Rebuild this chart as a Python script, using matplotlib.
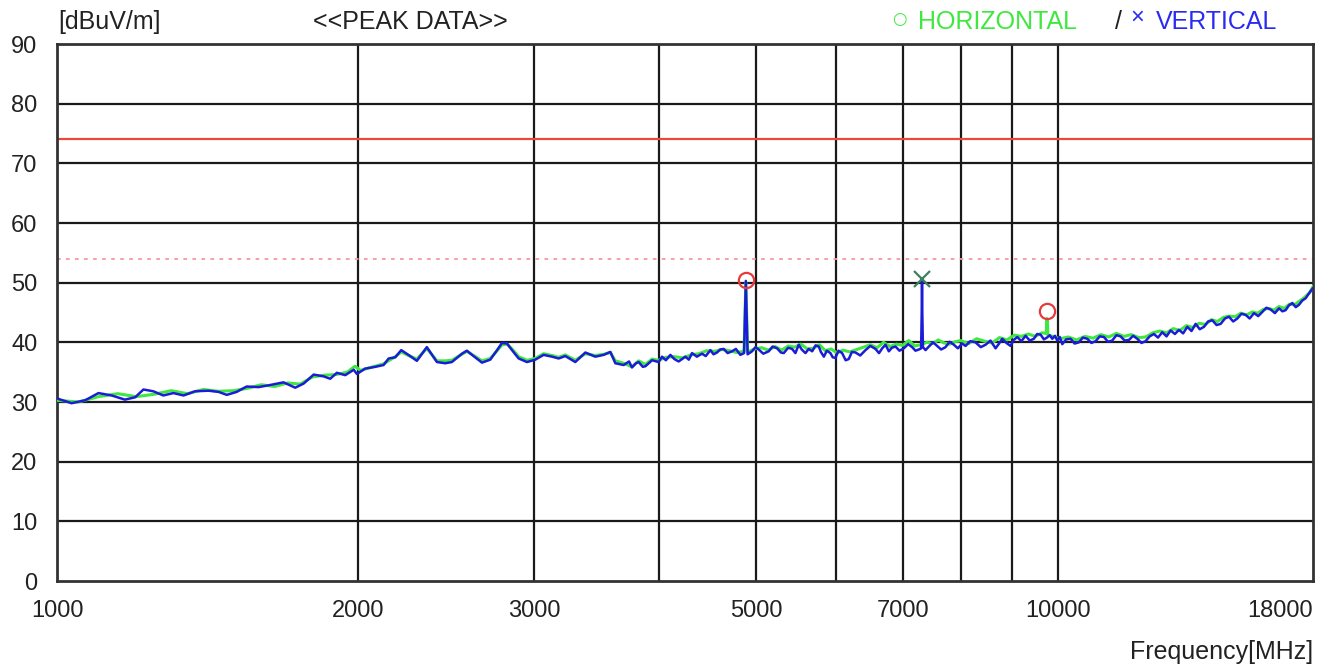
import matplotlib
matplotlib.use('Agg')
import matplotlib.pyplot as plt
from matplotlib.ticker import FixedLocator, NullLocator

plt.rcParams['font.family'] = ['Liberation Sans', 'DejaVu Sans']

# Vertical polarisation trace (blue)
freq_v = [1000, 1034, 1067, 1100, 1134, 1169, 1197, 1220, 1248, 1277, 1307, 1338, 1374, 1417,
          1450, 1478, 1512, 1547, 1590, 1627, 1684, 1730, 1764, 1805, 1847, 1875, 1904, 1941,
          1979, 1994, 2032, 2080, 2120, 2145, 2178, 2208, 2245, 2289, 2342, 2397, 2443, 2481,
          2539, 2568, 2608, 2659, 2710, 2753, 2784, 2817, 2849, 2893, 2949, 3006, 3064, 3124,
          3172, 3221, 3296, 3373, 3451, 3518, 3573, 3614, 3684, 3730, 3755, 3790, 3813, 3850,
          3873, 3933, 3993, 4024, 4060, 4102, 4140, 4181, 4246, 4280, 4312, 4360, 4412, 4450,
          4498, 4530, 4567, 4600, 4638, 4680, 4727, 4770, 4819, 4860, 4870, 4880, 4890, 4900,
          4950, 4990, 5027, 5080, 5144, 5190, 5244, 5290, 5325, 5380, 5428, 5470, 5512, 5550,
          5598, 5640, 5685, 5730, 5772, 5800, 5840, 5880, 5929, 5960, 5998, 6040, 6091, 6140,
          6184, 6230, 6281, 6350, 6427, 6500, 6577, 6630, 6679, 6730, 6782, 6830, 6887, 6950,
          7020, 7090, 7156, 7210, 7266, 7305, 7315, 7320, 7325, 7335, 7380, 7436, 7510, 7580,
          7650, 7727, 7800, 7877, 7950, 8029, 8091, 8180, 8279, 8380, 8472, 8570, 8670, 8740,
          8804, 8890, 8974, 9040, 9114, 9200, 9290, 9380, 9469, 9540, 9616, 9690, 9760, 9820,
          9879, 9940, 9993, 10050, 10109, 10200, 10304, 10400, 10503, 10600, 10707, 10810,
          10914, 11020, 11125, 11230, 11340, 11450, 11561, 11670, 11784, 11900, 12013, 12130,
          12246, 12360, 12483, 12600, 12725, 12850, 12972, 13100, 13223, 13350, 13479, 13610,
          13740, 13870, 14006, 14140, 14278, 14420, 14555, 14700, 14836, 14980, 15124, 15270,
          15417, 15560, 15716, 15870, 16020, 16170, 16331, 16490, 16647, 16780, 16904, 17030,
          17167, 17300, 17430, 17560, 17701, 17800, 17906, 18000]
level_v = [30.6, 29.8, 30.3, 31.5, 31.1, 30.4, 30.8, 32.1, 31.8, 31.1, 31.5, 31.1, 31.8, 31.9,
           31.7, 31.2, 31.7, 32.6, 32.5, 32.8, 33.3, 32.4, 33.1, 34.6, 34.3, 33.9, 34.9, 34.5,
           35.4, 34.7, 35.6, 35.9, 36.2, 37.3, 37.5, 38.7, 37.9, 36.9, 39.2, 36.7, 36.5, 36.7,
           38.1, 38.6, 37.7, 36.6, 37.1, 38.7, 39.9, 39.8, 38.7, 37.3, 36.7, 37.1, 37.9, 37.6,
           37.3, 37.7, 36.7, 38.3, 37.6, 37.9, 38.4, 36.5, 36.2, 36.8, 35.8, 36.5, 36.7, 35.9,
           36.0, 37.0, 36.7, 37.6, 37.0, 37.9, 37.2, 36.8, 37.6, 37.1, 38.2, 37.6, 38.1, 37.7,
           38.7, 38.0, 38.3, 38.8, 38.9, 38.2, 38.5, 38.9, 37.9, 38.2, 44.0, 50.3, 44.0, 38.0,
           38.5, 39.2, 38.8, 38.1, 38.5, 39.3, 39.0, 38.3, 38.2, 39.1, 38.9, 38.2, 39.6, 38.8,
           38.2, 38.9, 38.5, 39.5, 39.3, 38.4, 37.6, 38.6, 38.2, 37.5, 37.4, 38.6, 38.2, 37.0,
           37.2, 38.4, 38.3, 37.8, 38.7, 39.4, 38.9, 38.2, 39.0, 39.6, 38.5, 39.1, 39.3, 38.6,
           39.0, 39.7, 39.2, 38.6, 38.8, 39.0, 45.0, 50.4, 45.0, 39.2, 38.7, 39.3, 40.0, 39.4,
           38.8, 39.2, 40.1, 39.6, 39.0, 39.8, 39.4, 40.2, 40.0, 39.2, 39.6, 40.3, 39.0, 39.8,
           40.6, 39.9, 39.4, 40.4, 40.9, 40.2, 41.1, 40.3, 40.6, 41.4, 41.3, 40.5, 40.8, 41.2,
           40.6, 41.1, 40.3, 40.9, 39.7, 40.5, 40.6, 39.8, 40.0, 40.8, 40.6, 39.9,
           40.2, 41.0, 40.9, 40.1, 40.3, 41.2, 41.0, 40.3, 40.4, 41.1, 40.6, 39.9,
           40.2, 41.0, 41.4, 40.8, 41.7, 41.0, 42.0, 41.4, 42.1, 41.5, 42.6, 41.9,
           43.1, 42.2, 42.6, 43.5, 43.7, 42.9, 43.1, 44.0, 44.3, 43.5, 44.0, 44.8,
           44.6, 44.0, 44.9, 44.4, 45.1, 45.8, 45.5, 44.9, 45.7, 45.2, 45.4, 46.2,
           46.6, 45.9, 46.3, 47.0, 47.4, 48.0, 48.6, 49.1]

# Horizontal polarisation trace (green)
freq_h = [1000, 1050, 1100, 1150, 1200, 1250, 1300, 1350, 1400, 1450, 1500, 1550, 1600, 1650,
          1700, 1750, 1800, 1850, 1900, 1950, 1985, 2010, 2060, 2120, 2178, 2208, 2245, 2289,
          2342, 2397, 2443, 2481, 2539, 2568, 2608, 2659, 2710, 2753, 2784, 2817, 2849, 2893,
          2949, 3006, 3064, 3124, 3172, 3221, 3296, 3373, 3451, 3518, 3573, 3614, 3684, 3755,
          3813, 3873, 3933, 3993, 4060, 4140, 4220, 4300, 4380, 4460, 4540, 4620, 4700, 4780,
          4860, 4870, 4880, 4890, 4900, 4980, 5060, 5140, 5220, 5300, 5380, 5460, 5540, 5620,
          5700, 5780, 5860, 5940, 6020, 6100, 6200, 6300, 6400, 6500, 6600, 6700, 6800, 6900,
          7000, 7100, 7200, 7300, 7400, 7500, 7600, 7700, 7800, 7900, 8000, 8150, 8300, 8450,
          8600, 8750, 8900, 9050, 9200, 9350, 9500, 9650, 9740, 9750, 9760, 9770, 9780, 9900,
          10050, 10250, 10450, 10650, 10850, 11050, 11250, 11450, 11650, 11850, 12050, 12250,
          12450, 12650, 12850, 13050, 13250, 13450, 13650, 13850, 14050, 14250, 14450, 14650,
          14850, 15050, 15250, 15450, 15650, 15850, 16050, 16250, 16450, 16650, 16850, 17050,
          17250, 17450, 17650, 17850, 18000]
level_h = [30.3, 30.0, 30.9, 31.4, 30.9, 31.3, 31.9, 31.4, 32.1, 31.8, 31.9, 32.3, 32.9, 32.6,
           33.2, 33.0, 34.2, 34.5, 34.6, 35.0, 36.0, 35.3, 35.8, 36.4, 37.6, 38.4, 37.8, 37.2,
           39.0, 36.9, 36.9, 37.0, 38.0, 38.5, 37.8, 36.9, 37.3, 38.6, 39.6, 39.7, 38.9, 37.6,
           37.0, 37.3, 38.1, 37.8, 37.5, 37.9, 37.0, 38.1, 37.8, 38.0, 38.3, 36.9, 36.5, 35.9,
           36.9, 36.3, 37.2, 37.0, 37.5, 37.6, 37.4, 37.9, 38.1, 38.6, 38.5, 38.8, 38.6, 38.3,
           38.5, 44.5, 50.0, 44.5, 38.4, 38.9, 39.1, 38.7, 39.3, 38.7, 39.4, 39.2, 39.7, 38.9,
           39.0, 39.6, 38.6, 38.9, 38.2, 38.7, 38.4, 38.8, 39.2, 39.6, 39.1, 40.0, 39.3, 39.7,
           39.5, 40.3, 39.4, 39.6, 40.0, 39.8, 40.4, 39.9, 39.7, 40.1, 40.3, 39.8, 40.6, 40.2,
           39.9, 40.8, 40.4, 41.2, 41.0, 41.4, 41.0, 41.6, 41.5, 43.0, 44.0, 43.0, 41.2, 41.0,
           40.6, 40.9, 40.4, 41.0, 40.7, 41.3, 40.9, 41.5, 41.0, 41.3, 40.8, 40.9,
           41.6, 41.9, 41.6, 42.3, 42.0, 42.8, 42.5, 43.2, 43.0, 43.8, 43.5, 44.2,
           44.4, 44.3, 44.9, 44.6, 45.1, 44.9, 45.5, 45.7, 45.4, 46.0, 45.7, 46.4,
           46.3, 46.9, 47.5, 48.3, 49.3]

# Peak markers
peak_h_freq = [4880, 9760]
peak_h_level = [50.5, 45.2]
peak_v_freq = [7320]
peak_v_level = [50.6]

limit_peak = 74
limit_avg = 54

grid_x = [2000, 3000, 4000, 5000, 6000, 7000, 8000, 9000, 10000]
x_ticks = [1000, 2000, 3000, 5000, 7000, 10000, 18000]
y_ticks = [0, 10, 20, 30, 40, 50, 60, 70, 80, 90]

fig = plt.figure(figsize=(13.3, 6.68), dpi=100)
ax = fig.add_axes([0.0429, 0.1302, 0.9443, 0.8039])

ax.set_xscale('log')
ax.set_xlim(1000, 18000)
ax.set_ylim(0, 90)

# grid
for gx in grid_x:
    ax.axvline(gx, color='#1a1a1a', lw=1.6, zorder=1)
for gy in y_ticks[1:-1]:
    ax.axhline(gy, color='#1a1a1a', lw=1.6, zorder=1)

# limit lines
ax.axhline(limit_peak, color='#e84a3a', lw=1.6, zorder=2)
ax.axhline(limit_avg, color='#f29a9a', lw=1.3, ls=(0, (2, 3)), zorder=2)

# traces
ax.plot(freq_h, level_h, color='#3ee83e', lw=2.2, zorder=3)
ax.plot(freq_v, level_v, color='#1c1cd8', lw=1.8, zorder=4)

# markers
ax.plot(peak_h_freq, peak_h_level, 'o', mfc='none', mec='#e83a3a', mew=1.6, ms=11, zorder=5)
ax.plot(peak_v_freq, peak_v_level, 'x', color='#3f7f5f', mew=1.6, ms=12, zorder=5)

for s in ax.spines.values():
    s.set_color('#333333')
    s.set_linewidth(2.0)

ax.xaxis.set_major_locator(FixedLocator(x_ticks))
ax.xaxis.set_minor_locator(NullLocator())
ax.set_xticklabels([str(t) for t in x_ticks])
ax.get_xticklabels()[-1].set_horizontalalignment('right')
ax.set_yticks(y_ticks)
ax.tick_params(axis='both', length=0, labelsize=17, colors='#222222')
ax.tick_params(axis='y', pad=14)
ax.tick_params(axis='x', pad=14)

fig.text(0.0436, 0.967, '[dBuV/m]', fontsize=18, color='#222222', va='center')
fig.text(0.235, 0.967, '<<PEAK DATA>>', fontsize=18, color='#222222', va='center')
fig.text(0.671, 0.971, '\u25cb', fontsize=12, color='#3ee83e', va='center', family='DejaVu Sans')
fig.text(0.690, 0.967, 'HORIZONTAL', fontsize=18, color='#3ee83e', va='center')
fig.text(0.838, 0.967, '/', fontsize=18, color='#222222', va='center')
fig.text(0.850, 0.973, '\u00d7', fontsize=17, color='#2a2af0', va='center')
fig.text(0.869, 0.967, 'VERTICAL', fontsize=18, color='#2a2af0', va='center')
fig.text(0.987, 0.024, 'Frequency[MHz]', fontsize=18, color='#222222', ha='right', va='center')

fig.savefig('out.png', dpi=100)
